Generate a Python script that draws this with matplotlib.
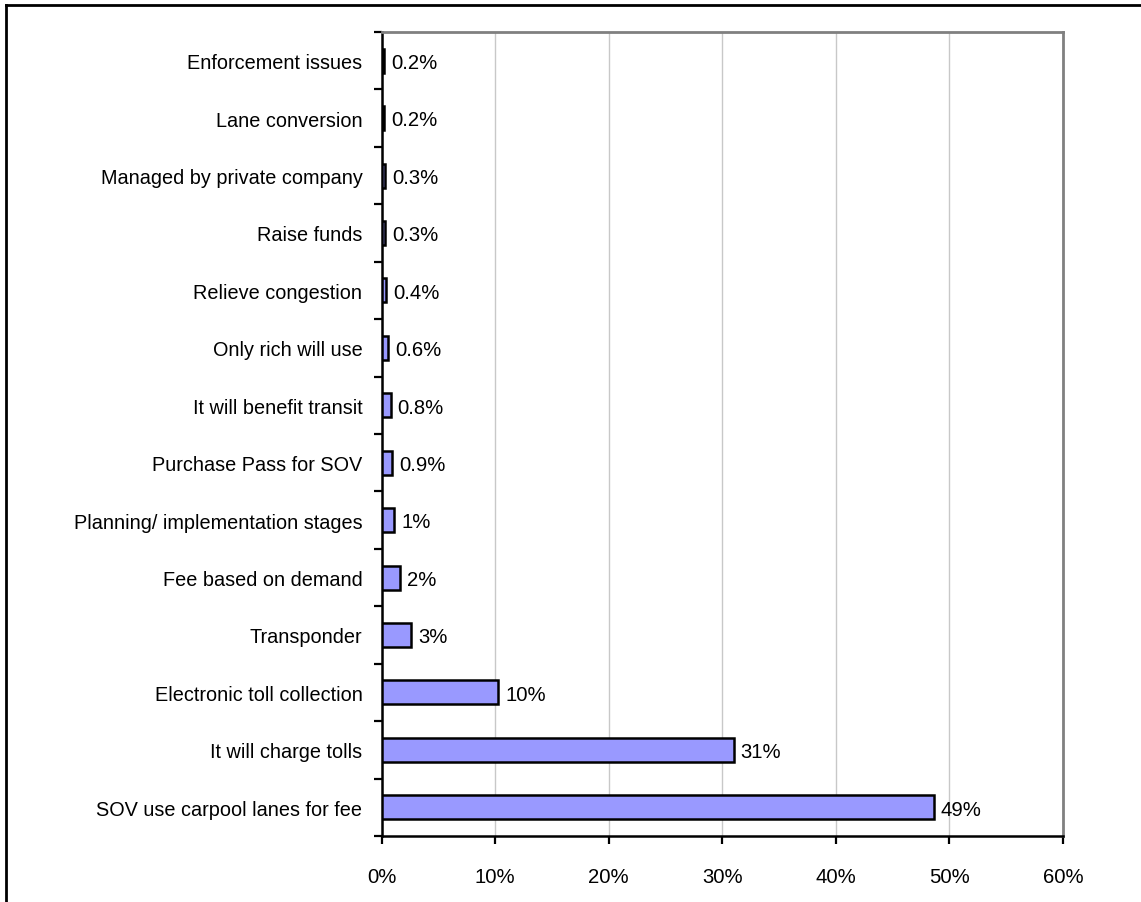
import numpy as np
import matplotlib.pyplot as plt
from matplotlib.lines import Line2D

plt.rcParams['font.family'] = ['Liberation Sans', 'DejaVu Sans']

# responses, listed bottom to top
categories = [
    "SOV use carpool lanes for fee",
    "It will charge tolls",
    "Electronic toll collection",
    "Transponder",
    "Fee based on demand",
    "Planning/ implementation stages",
    "Purchase Pass for SOV",
    "It will benefit transit",
    "Only rich will use",
    "Relieve congestion",
    "Raise funds",
    "Managed by private company",
    "Lane conversion",
    "Enforcement issues",
]
shares = [48.6, 31.0, 10.3, 2.6, 1.6, 1.1, 0.9, 0.8, 0.6, 0.4, 0.3, 0.3, 0.2, 0.2]
x_ticks = [0, 10, 20, 30, 40, 50, 60]


def pct_label(v):
    # small shares keep one decimal, the rest are whole percents
    if v < 0.95:
        return f"{v:.1f}%"
    return f"{v:.0f}%"


W, H = 1141, 903
fig = plt.figure(figsize=(W / 100, H / 100), dpi=100)
ax = fig.add_axes([381.5 / W, 1 - 837 / H, (1063 - 381.5) / W, (837 - 33) / H])

y = np.arange(len(categories))
ax.barh(y, shares, height=0.42, color='#9999FF', edgecolor='black',
        linewidth=1.8, zorder=3)

for yi, v in zip(y, shares):
    ax.text(v + 0.62, yi - 0.03, pct_label(v), va='center', ha='left', fontsize=14.6)

ax.set_xlim(0, 60)
ax.set_ylim(-0.5, len(categories) - 0.5)
ax.set_xticks(x_ticks)
ax.set_xticklabels([f"{t}%" for t in x_ticks], fontsize=14.6)
ax.set_yticks(y)
ax.set_yticklabels(categories, fontsize=14.3)
ax.set_yticks(np.arange(len(categories) + 1) - 0.5, minor=True)

ax.tick_params(axis='y', which='major', length=0, pad=13.7)
ax.tick_params(axis='y', which='minor', length=6, width=1.6, direction='out')
ax.tick_params(axis='x', length=6, width=1.6, direction='out', pad=16)

ax.xaxis.grid(True, color='#C8C8C8', linewidth=1.0, zorder=0)
ax.set_axisbelow(True)

for side in ('left', 'bottom'):
    ax.spines[side].set_color('black')
    ax.spines[side].set_linewidth(1.8)
for side in ('top', 'right'):
    ax.spines[side].set_color('#808080')
    ax.spines[side].set_linewidth(2.0)

# outer chart frame (top and left edges visible)
fig.add_artist(Line2D([6 / W, 1.01], [1 - 6 / H, 1 - 6 / H], color='black',
                      linewidth=2, transform=fig.transFigure))
fig.add_artist(Line2D([6 / W, 6 / W], [1 - 6 / H, -0.01], color='black',
                      linewidth=2, transform=fig.transFigure))

fig.savefig('out.png', dpi=100)
